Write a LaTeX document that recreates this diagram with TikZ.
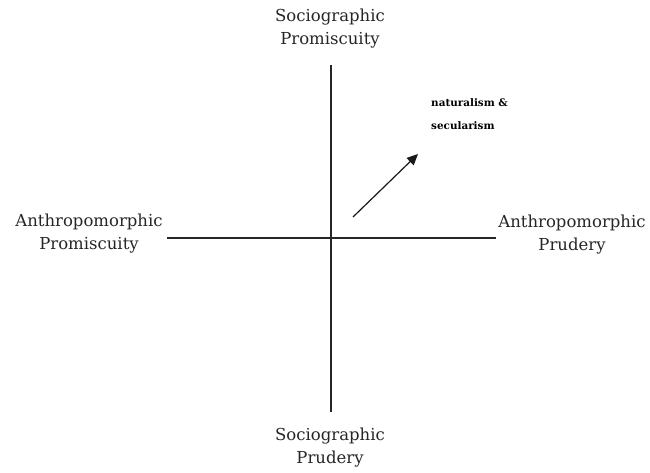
\documentclass[tikz,border=0pt]{standalone}
\usepackage{fontspec}
\setmainfont{DejaVu Serif}
\usetikzlibrary{arrows.meta}
\begin{document}
\begin{tikzpicture}[x=1pt,y=-1pt,
  axis/.style={line width=1.1pt,black!85},
  lab/.style={align=center,font=\fontsize{16.5}{23}\selectfont,text=black!85,inner sep=0pt},
  note/.style={align=left,font=\bfseries\fontsize{10.4}{23}\selectfont,inner sep=0pt,anchor=west}]
\useasboundingbox (0,0) rectangle (650,472);
\coordinate (top) at (331,65);
\coordinate (bot) at (331,412);
\coordinate (lft) at (167,238);
\coordinate (rgt) at (496,238);
\draw[axis] (top) -- (bot);
\draw[axis] (lft) -- (rgt);
\node[lab] (tl) at (330,29) {Sociographic\\Promiscuity};
\node[lab] (bl) at (330,448) {Sociographic\\Prudery};
\node[lab] (ll) at (89,234) {Anthropomorphic\\Promiscuity};
\node[lab] (rl) at (572,235) {Anthropomorphic\\Prudery};
\node[note] (nt) at (431,114) {naturalism \&\\secularism};
\coordinate (a0) at (353,217);
\coordinate (a1) at (418,154);
\draw[line width=1.2pt,black!90,-{Triangle[length=11pt,width=10pt]}] (a0) -- (a1);
\end{tikzpicture}
\end{document}
